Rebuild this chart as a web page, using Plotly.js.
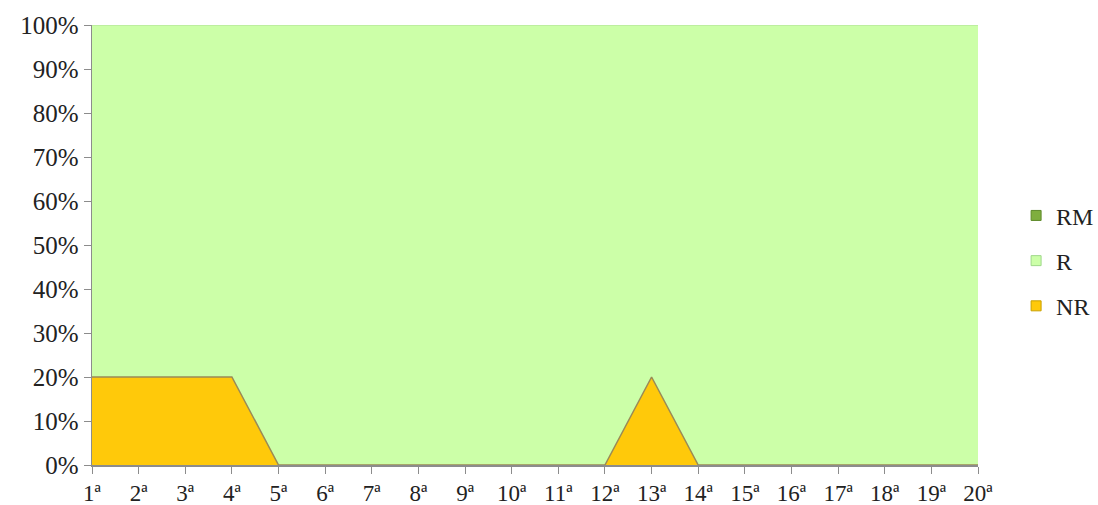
<!DOCTYPE html>
<html>
<head>
<meta charset="utf-8">
<script src="https://cdn.plot.ly/plotly-3.0.1.min.js"></script>
<style>html,body{margin:0;padding:0;background:#fff}#chart{width:1098px;height:505px}</style>
</head>
<body>
<div id="chart"></div>
<script>
const categories = ["1ª","2ª","3ª","4ª","5ª","6ª","7ª","8ª","9ª","10ª","11ª","12ª","13ª","14ª","15ª","16ª","17ª","18ª","19ª","20ª"];
const NR = [20,20,20,20,0,0,0,0,0,0,0,0,20,0,0,0,0,0,0,0];
const R  = [80,80,80,80,100,100,100,100,100,100,100,100,80,100,100,100,100,100,100,100];
const RM = [0,0,0,0,0,0,0,0,0,0,0,0,0,0,0,0,0,0,0,0];
const yTicks = [0,10,20,30,40,50,60,70,80,90,100];
const legendNames = ["RM","R","NR"];
const legendColors = ["#7FAE3E","#CCFFA8","#FFC90A"];
const legendEdges = ["#5e8a2a","#9fd88a","#c9a000"];

const traces = [
  {x: categories, y: NR, name: "NR", type: "scatter", mode: "lines", stackgroup: "one", showlegend: false,
   line: {color: "#9a8a55", width: 1.5}, fillcolor: "#FFC90A"},
  {x: categories, y: R, name: "R", type: "scatter", mode: "lines", stackgroup: "one", showlegend: false,
   line: {color: "#b8e89c", width: 1.5}, fillcolor: "#CCFFA8"},
  {x: categories, y: RM, name: "RM", type: "scatter", mode: "lines", stackgroup: "one", showlegend: false,
   line: {color: "#6f9a35", width: 0}, fillcolor: "#7FAE3E"}
];
legendNames.forEach((n, i) => {
  traces.push({x: [null], y: [null], name: n, type: "scatter", mode: "markers", legendgroup: n,
    marker: {symbol: "square", size: 10, color: legendColors[i],
             line: {color: legendEdges[i], width: 1}}});
});

const layout = {
  width: 1098, height: 505,
  margin: {l: 92, r: 120, t: 25, b: 40, autoexpand: false},
  paper_bgcolor: "#fff", plot_bgcolor: "#fff",
  font: {family: "Liberation Serif, Times New Roman, serif", size: 23, color: "#222"},
  showlegend: true,
  legend: {x: 1.043, y: 0.464, yanchor: "middle", xanchor: "left", traceorder: "grouped",
           font: {size: 24}, itemwidth: 30, tracegroupgap: 11, borderwidth: 0},
  xaxis: {type: "category", range: [0, 19], showgrid: false, zeroline: false,
          showline: true, linecolor: "#8c8c8c", linewidth: 1.5,
          ticks: "outside", ticklen: 7, tickcolor: "#8c8c8c", tickwidth: 1,
          tickfont: {size: 23}},
  yaxis: {range: [0, 100], tickvals: yTicks, ticktext: yTicks.map(v => v + "%"),
          showgrid: false, zeroline: false, showline: true, linecolor: "#8c8c8c", linewidth: 1.5,
          ticks: "outside", ticklen: 7, tickcolor: "#8c8c8c", tickwidth: 1,
          tickfont: {size: 25}}
};

Plotly.newPlot("chart", traces, layout, {displayModeBar: false, staticPlot: true});
</script>
</body>
</html>
